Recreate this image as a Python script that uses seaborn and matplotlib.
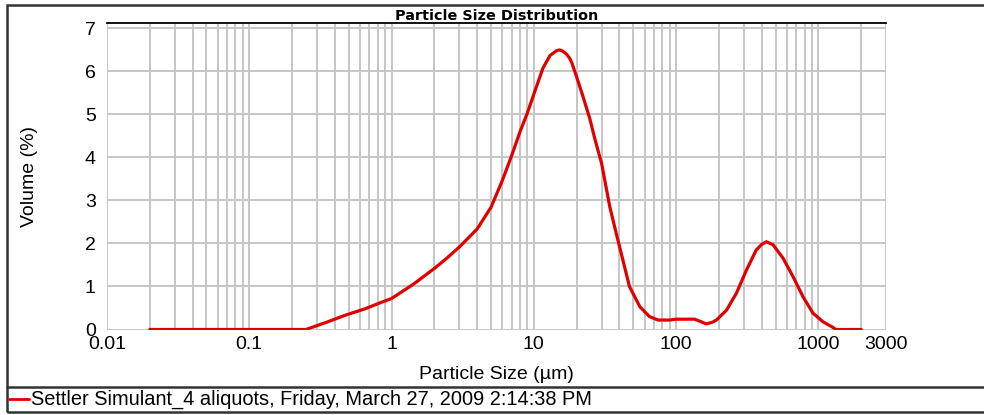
import matplotlib
matplotlib.use("Agg")
import matplotlib.pyplot as plt
import seaborn as sns
import pandas as pd
from matplotlib.lines import Line2D
from matplotlib.patches import Rectangle

# particle size (um) and volume (%)
size_um = [0.02, 0.05, 0.1, 0.2, 0.25, 0.35, 0.48, 0.65, 0.83, 1.0, 1.42, 2.0,
           2.43, 3.0, 3.74, 4.0, 5.0, 6.0, 7.0, 8.0, 9.0, 10.0, 11.6, 13.0,
           14.4, 15.2, 16.0, 17.0, 17.9, 18.5, 20.0, 22.0, 24.7, 27.0, 30.0,
           34.2, 38.5, 42.0, 47.0, 55.6, 65.0, 74.8, 90.0, 100.0, 120.0, 135.0,
           150.0, 163.0, 180.0, 192.0, 226.0, 265.0, 312.0, 366.0, 400.0, 431.0,
           480.0, 564.0, 663.0, 780.0, 916.0, 1077.0, 1265.0, 1325.0, 1600.0,
           2000.0]
volume_pct = [0, 0, 0, 0, 0, 0.17, 0.34, 0.48, 0.62, 0.72, 1.05, 1.42,
              1.65, 1.92, 2.24, 2.34, 2.84, 3.46, 4.05, 4.6, 5.03, 5.47, 6.08, 6.37,
              6.48, 6.5, 6.47, 6.4, 6.3, 6.2, 5.87, 5.45, 4.91, 4.4, 3.85,
              2.85, 2.15, 1.65, 1.0, 0.53, 0.30, 0.22, 0.22, 0.24, 0.24, 0.24,
              0.18, 0.13, 0.17, 0.22, 0.45, 0.84, 1.38, 1.85, 1.98, 2.04,
              1.97, 1.66, 1.23, 0.76, 0.38, 0.18, 0.05, 0.0, 0.0,
              0.0]

x_ticks = [0.01, 0.1, 1, 10, 100, 1000, 3000]
x_tick_labels = ["0.01", "0.1", "1", "10", "100", "1000", "3000"]
y_ticks = [0, 1, 2, 3, 4, 5, 6, 7]
legend_label = "Settler Simulant_4 aliquots, Friday, March 27, 2009 2:14:38 PM"

df = pd.DataFrame({"size": size_um, "volume": volume_pct})

sns.set_style("white")
plt.rcParams["font.family"] = ["Liberation Sans", "DejaVu Sans"]
plt.rcParams["text.color"] = "black"
plt.rcParams["axes.labelcolor"] = "black"
plt.rcParams["xtick.color"] = "black"
plt.rcParams["ytick.color"] = "black"

fig = plt.figure(figsize=(9.84, 4.15), dpi=100)
ax = fig.add_axes([0.1087, 0.206, 0.792, 0.738])

sns.lineplot(data=df, x="size", y="volume", color="#e00000", linewidth=2.3, ax=ax)

ax.set_xscale("log")
ax.set_xlim(0.01, 3000)
ax.set_ylim(0, 7.12)

# gridlines: every decade step plus 2000/3000
minor = [k * 10.0 ** d for d in range(-2, 3) for k in range(2, 10)] + [2000]
ax.set_xticks(x_ticks)
ax.set_xticklabels(x_tick_labels)
ax.set_xticks(minor, minor=True)
ax.set_yticks(y_ticks)
ax.grid(True, which="both", axis="x", color="#c6c6c6", linewidth=1.4)
ax.grid(True, which="major", axis="y", color="#c6c6c6", linewidth=1.4)
ax.tick_params(axis="both", which="both", length=0, labelsize=14)
ax.tick_params(axis="y", pad=8)
ax.tick_params(axis="x", pad=5)

for side in ["left", "right", "bottom"]:
    ax.spines[side].set_visible(False)
ax.spines["top"].set_color("black")
ax.spines["top"].set_linewidth(1.3)

ax.set_xlabel("Particle Size (\u00b5m)", fontsize=14)
ax.set_ylabel("Volume (%)", fontsize=14)
ax.xaxis.set_label_coords(0.5, -0.118)
ax.yaxis.set_label_coords(-0.088, 0.5)
ax.set_title("Particle Size Distribution", fontsize=10.4, fontweight="bold",
             family="DejaVu Sans", pad=2.5)

# outer frame and legend strip
fig.add_artist(Rectangle((0.0076, 0.0072), 1.0, 0.981, transform=fig.transFigure,
                         fill=False, edgecolor="#333333", linewidth=1.8))
fig.add_artist(Line2D([0.0076, 1.0], [0.068, 0.068], transform=fig.transFigure,
                      color="#333333", linewidth=1.8))
fig.add_artist(Line2D([0.009, 0.029], [0.0386, 0.0386], transform=fig.transFigure,
                      color="#e00000", linewidth=2))
fig.text(0.031, 0.0386, legend_label, fontsize=14.4, va="center", ha="left")

fig.savefig("out.png", dpi=100)
